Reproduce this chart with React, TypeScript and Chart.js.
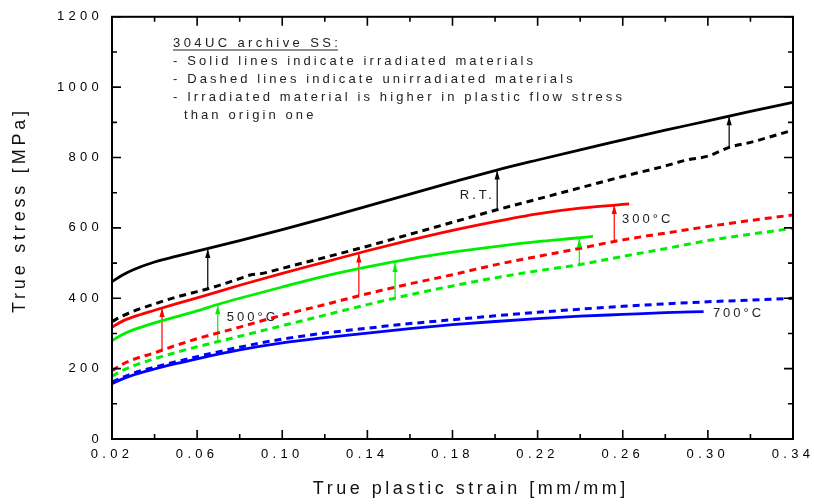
import React, { useEffect, useRef } from 'react';
import { Chart, registerables } from 'chart.js';

Chart.register(...registerables);

// ---- Data ----
const rtIrrStrain = [0.02, 0.025, 0.03, 0.04, 0.05, 0.06, 0.08, 0.10, 0.12, 0.14, 0.16, 0.18, 0.20, 0.22, 0.24, 0.26, 0.28, 0.30, 0.32, 0.34];
const rtIrrStress = [447, 466, 481, 503, 519, 534, 564, 595, 628, 662, 696, 730, 763, 793, 822, 850, 878, 904, 931, 957];

const rtUnStrain = [0.02, 0.025, 0.03, 0.04, 0.05, 0.06, 0.065, 0.07, 0.08, 0.085, 0.09, 0.10, 0.11, 0.12, 0.14, 0.16, 0.18, 0.20, 0.22, 0.24, 0.26, 0.28, 0.29, 0.30, 0.31, 0.32, 0.34];
const rtUnStress = [334, 350, 363, 384, 403, 419, 427, 436, 456, 466, 470, 485, 501, 516, 548, 582, 616, 650, 682, 714, 746, 776, 793, 804, 829, 843, 878];

const t300IrrStrain = [0.02, 0.025, 0.03, 0.04, 0.05, 0.06, 0.08, 0.10, 0.12, 0.14, 0.16, 0.18, 0.20, 0.22, 0.24, 0.263];
const t300IrrStress = [318, 335, 347, 366, 384, 401, 437, 471, 503, 535, 565, 593, 618, 640, 656, 668];

const t300UnStrain = [0.02, 0.025, 0.03, 0.04, 0.05, 0.06, 0.08, 0.10, 0.12, 0.14, 0.16, 0.18, 0.20, 0.22, 0.24, 0.26, 0.28, 0.30, 0.32, 0.34];
const t300UnStress = [194, 213, 226, 245, 266, 285, 318, 352, 382, 413, 441, 467, 495, 519, 542, 566, 585, 604, 621, 637];

const t500IrrStrain = [0.02, 0.025, 0.03, 0.04, 0.05, 0.06, 0.07, 0.08, 0.10, 0.12, 0.14, 0.16, 0.18, 0.20, 0.22, 0.24, 0.246];
const t500IrrStress = [280, 297, 310, 330, 347, 364, 383, 400, 432, 463, 489, 512, 531, 547, 561, 572, 576];

const t500UnStrain = [0.02, 0.025, 0.03, 0.04, 0.05, 0.06, 0.08, 0.10, 0.12, 0.14, 0.16, 0.18, 0.20, 0.22, 0.24, 0.26, 0.28, 0.30, 0.32, 0.34];
const t500UnStress = [178, 195, 208, 228, 246, 262, 292, 322, 352, 382, 410, 435, 458, 478, 496, 519, 541, 564, 582, 599];

const t700IrrStrain = [0.02, 0.025, 0.03, 0.04, 0.05, 0.06, 0.08, 0.10, 0.12, 0.14, 0.16, 0.18, 0.20, 0.22, 0.24, 0.26, 0.28, 0.298];
const t700IrrStress = [157, 171, 182, 199, 214, 228, 253, 273, 288, 301, 314, 325, 334, 342, 349, 354, 359, 362];

const t700UnStrain = [0.02, 0.03, 0.04, 0.06, 0.08, 0.10, 0.12, 0.14, 0.16, 0.18, 0.20, 0.22, 0.24, 0.26, 0.28, 0.30, 0.32, 0.34];
const t700UnStress = [162, 187, 204, 234, 261, 284, 301, 315, 328, 339, 350, 360, 369, 377, 384, 390, 395, 400];

// arrows: from unirradiated (dashed) to irradiated (solid)
const arrowStrain = [0.065, 0.201, 0.31, 0.0435, 0.136, 0.256, 0.0697, 0.153, 0.2396];
const arrowFrom = [427, 653, 829, 251, 408, 561, 275, 398, 494];
const arrowTo = [540, 763, 917, 372, 527, 665, 380, 500, 570];
const arrowGroup = ['RT', 'RT', 'RT', '300', '300', '300', '500', '500', '500'];

// curve labels
const curveLabelText = ['R.T.', '300°C', '500°C', '700°C'];
const curveLabelStrain = [0.191, 0.271, 0.0853, 0.3137];
const curveLabelStress = [691, 624, 346, 357];

// axes
const xTickValues = [0.02, 0.06, 0.10, 0.14, 0.18, 0.22, 0.26, 0.30, 0.34];
const xMinorValues = [0.04, 0.08, 0.12, 0.16, 0.20, 0.24, 0.28, 0.32];
const yTickValues = [0, 200, 400, 600, 800, 1000, 1200];
const yMinorValues = [100, 300, 500, 700, 900, 1100];

const xTitle = 'True plastic strain [mm/mm]';
const yTitle = 'True stress [MPa]';
const noteTitle = '304UC archive SS:';
const noteLines = [
  '- Solid lines indicate irradiated materials',
  '- Dashed lines indicate unirradiated materials',
  '- Irradiated material is higher in plastic flow stress',
];
const noteLastLine = 'than origin one';

const groupColor: Record<string, string> = { RT: '#000000', '300': '#ff0000', '500': '#00ee00', '700': '#0000ff' };
const FONT = '"Liberation Sans", Arial, sans-serif';

const pts = (xs: number[], ys: number[]) => xs.map((x, i) => ({ x, y: ys[i] }));

function spacedText(ctx: any, s: string, x: number, y: number, font: string, spacing: number, align: string) {
  ctx.font = font;
  ctx.letterSpacing = spacing + 'px';
  ctx.textAlign = align;
  ctx.textBaseline = 'middle';
  const dx = align === 'center' ? spacing / 2 : align === 'right' ? spacing : 0;
  ctx.fillText(s, x + dx, y);
}

const decorPlugin = {
  id: 'decor',
  beforeDraw(chart: any) {
    chart.ctx.letterSpacing = '4.3px';
  },
  afterDatasetsDraw(chart: any) {
    const ctx = chart.ctx;
    ctx.save();
    chart.data.datasets.forEach((ds: any, i: number) => {
      if (!ds.isArrow) return;
      const meta = chart.getDatasetMeta(i);
      const p1 = meta.data[1];
      ctx.fillStyle = ds.borderColor;
      ctx.beginPath();
      ctx.moveTo(p1.x, p1.y);
      ctx.lineTo(p1.x - 2.6, p1.y + 9);
      ctx.lineTo(p1.x + 2.6, p1.y + 9);
      ctx.closePath();
      ctx.fill();
    });
    ctx.restore();
  },
  afterDraw(chart: any) {
    const ctx = chart.ctx;
    const { left, right, top, bottom } = chart.chartArea;
    const xs = chart.scales.x;
    const ys = chart.scales.y;
    ctx.save();
    ctx.strokeStyle = '#000';
    ctx.lineWidth = 2;
    ctx.strokeRect(left, top, right - left, bottom - top);
    ctx.lineWidth = 1.6;
    ctx.beginPath();
    const major = 9;
    const minor = 5;
    xTickValues.forEach((v) => {
      const px = xs.getPixelForValue(v);
      ctx.moveTo(px, bottom); ctx.lineTo(px, bottom - major);
      ctx.moveTo(px, top); ctx.lineTo(px, top + major);
    });
    xMinorValues.forEach((v) => {
      const px = xs.getPixelForValue(v);
      ctx.moveTo(px, bottom); ctx.lineTo(px, bottom - minor);
      ctx.moveTo(px, top); ctx.lineTo(px, top + minor);
    });
    yTickValues.forEach((v) => {
      const py = ys.getPixelForValue(v);
      ctx.moveTo(left, py); ctx.lineTo(left + major, py);
      ctx.moveTo(right, py); ctx.lineTo(right - major, py);
    });
    yMinorValues.forEach((v) => {
      const py = ys.getPixelForValue(v);
      ctx.moveTo(left, py); ctx.lineTo(left + minor, py);
      ctx.moveTo(right, py); ctx.lineTo(right - minor, py);
    });
    ctx.stroke();

    // curve labels
    ctx.fillStyle = '#222';
    curveLabelText.forEach((t, i) => {
      spacedText(ctx, t, xs.getPixelForValue(curveLabelStrain[i]), ys.getPixelForValue(curveLabelStress[i]), `13px ${FONT}`, 3, 'center');
    });

    // note block
    const nx = 173;
    const ny = 43;
    const lh = 18;
    spacedText(ctx, noteTitle, nx, ny, `13px ${FONT}`, 3.4, 'left');
    const w = ctx.measureText(noteTitle).width - 3.4;
    ctx.lineWidth = 1;
    ctx.strokeStyle = '#222';
    ctx.beginPath();
    ctx.moveTo(nx, ny + 7);
    ctx.lineTo(nx + w, ny + 7);
    ctx.stroke();
    noteLines.forEach((t, i) => {
      spacedText(ctx, t, nx, ny + lh * (i + 1), `13px ${FONT}`, 3.1, 'left');
    });
    spacedText(ctx, noteLastLine, nx + 11, ny + lh * 4, `13px ${FONT}`, 3.1, 'left');

    // axis titles
    ctx.fillStyle = '#111';
    spacedText(ctx, xTitle, 469, 489, `18px ${FONT}`, 3.5, 'center');
    ctx.translate(20, 212);
    ctx.rotate(-Math.PI / 2);
    spacedText(ctx, yTitle, 0, 0, `18px ${FONT}`, 3.8, 'center');
    ctx.restore();
  },
};

function lineDs(xs: number[], ys: number[], color: string, dashed: boolean) {
  return {
    data: pts(xs, ys),
    borderColor: color,
    backgroundColor: color,
    borderWidth: dashed ? 3 : 2.8,
    borderDash: dashed ? [7, 5] : [],
    pointRadius: 0,
    cubicInterpolationMode: 'monotone',
    fill: false,
  };
}

export default function App() {
  const canvasRef = useRef<HTMLCanvasElement | null>(null);

  useEffect(() => {
    const canvas = canvasRef.current;
    if (!canvas) return;

    const arrowSets = arrowStrain.map((x, i) => ({
      data: [{ x, y: arrowFrom[i] }, { x, y: arrowTo[i] }],
      borderColor: groupColor[arrowGroup[i]],
      borderWidth: 1.2,
      pointRadius: 0,
      fill: false,
      isArrow: true,
    }));

    const chart = new Chart(canvas, {
      type: 'line',
      data: {
        datasets: [
          lineDs(rtUnStrain, rtUnStress, groupColor.RT, true),
          lineDs(t300UnStrain, t300UnStress, groupColor['300'], true),
          lineDs(t500UnStrain, t500UnStress, groupColor['500'], true),
          lineDs(t700UnStrain, t700UnStress, groupColor['700'], true),
          lineDs(rtIrrStrain, rtIrrStress, groupColor.RT, false),
          lineDs(t300IrrStrain, t300IrrStress, groupColor['300'], false),
          lineDs(t500IrrStrain, t500IrrStress, groupColor['500'], false),
          lineDs(t700IrrStrain, t700IrrStress, groupColor['700'], false),
          ...arrowSets,
        ] as any,
      },
      options: {
        animation: false,
        responsive: false,
        maintainAspectRatio: false,
        devicePixelRatio: 1,
        layout: { padding: { top: 12, right: 21, left: 0, bottom: 0 } },
        plugins: { legend: { display: false }, tooltip: { enabled: false }, title: { display: false } },
        scales: {
          x: {
            type: 'linear',
            min: 0.02,
            max: 0.34,
            grid: { display: false, drawTicks: false },
            border: { display: false },
            afterBuildTicks: (s: any) => { s.ticks = xTickValues.map((v) => ({ value: v })); },
            afterFit: (s: any) => { s.height = 65; },
            ticks: {
              autoSkip: false,
              maxRotation: 0,
              minRotation: 0,
              padding: 8,
              color: '#000',
              font: { family: FONT, size: 13 },
              callback: (v: any) => Number(v).toFixed(2),
            },
          },
          y: {
            type: 'linear',
            min: 0,
            max: 1200,
            grid: { display: false, drawTicks: false },
            border: { display: false },
            afterBuildTicks: (s: any) => { s.ticks = yTickValues.map((v) => ({ value: v })); },
            afterFit: (s: any) => { s.width = 112; },
            ticks: {
              padding: 9,
              color: '#000',
              font: { family: FONT, size: 13 },
              callback: (v: any) => String(v),
            },
          },
        },
      } as any,
      plugins: [decorPlugin as any],
    });

    return () => chart.destroy();
  }, []);

  return (
    <div style={{ position: 'fixed', left: 0, top: 0, width: 814, height: 504, background: '#fff' }}>
      <canvas ref={canvasRef} width={814} height={504} style={{ display: 'block' }} />
    </div>
  );
}
